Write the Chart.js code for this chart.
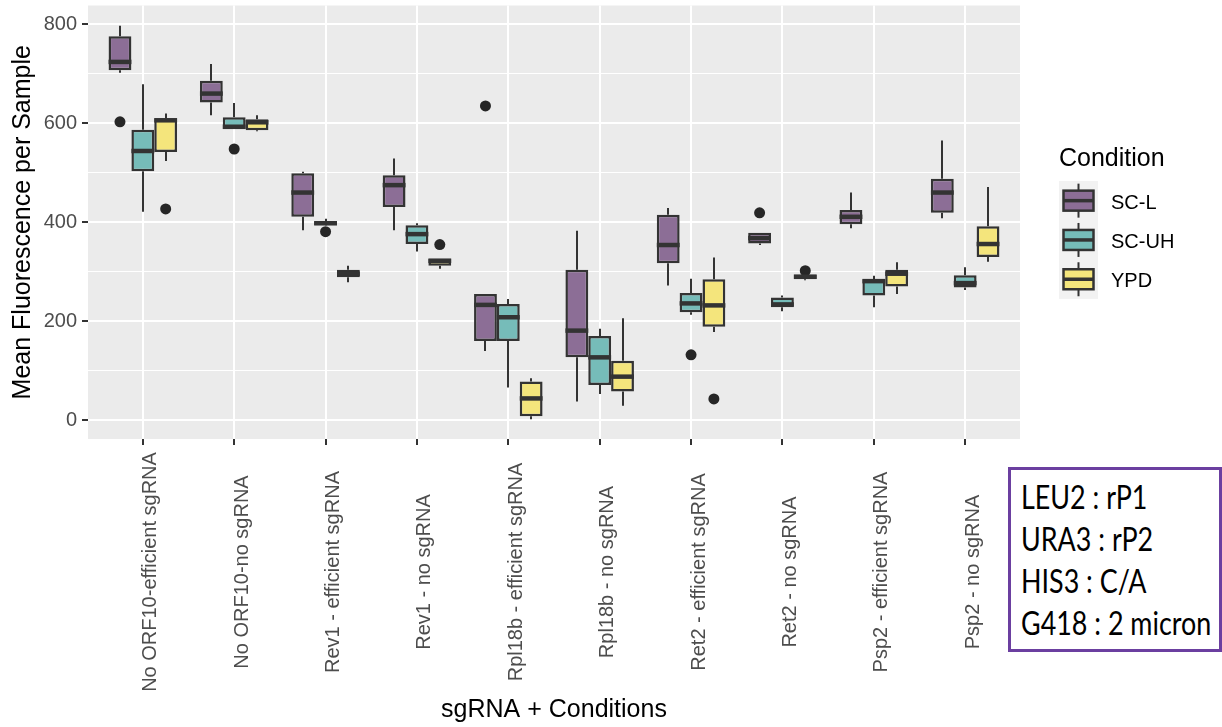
<!DOCTYPE html>
<html>
<head>
<meta charset="utf-8">
<script src="https://cdn.jsdelivr.net/npm/chart.js@4.4.1/dist/chart.umd.min.js"></script>
<style>
  html, body { margin: 0; padding: 0; background: #ffffff; }
  #wrap { position: relative; width: 1222px; height: 727px; overflow: hidden; }
  #chart { position: absolute; left: 0; top: 0; }
  #note {
    position: absolute; left: 1008px; top: 467px; width: 214px; height: 185px;
    box-sizing: border-box; border: 3px solid #6B3FA0; background: #fff;
    font-family: Lato, "Open Sans", sans-serif; color: #000;
    padding: 6px 0 0 10px;
  }
  #note div { font-size: 32px; line-height: 42px; height: 42px; white-space: nowrap;
    transform: scaleX(0.84); transform-origin: left center; }
</style>
</head>
<body>
<div id="wrap">
  <canvas id="chart" width="1222" height="727"></canvas>
  <div id="note">
    <div>LEU2 : rP1</div>
    <div>URA3 : rP2</div>
    <div>HIS3 : C/A</div>
    <div>G418 : 2 micron</div>
  </div>
</div>
<script>
// ---------------- data ----------------
const categories = [
  'No ORF10-efficient sgRNA', 'No ORF10-no sgRNA', 'Rev1 - efficient sgRNA', 'Rev1 - no sgRNA',
  'Rpl18b - efficient sgRNA', 'Rpl18b - no sgRNA', 'Ret2 - efficient sgRNA', 'Ret2 - no sgRNA',
  'Psp2 - efficient sgRNA', 'Psp2 - no sgRNA'
];
const conditions = ['SC-L', 'SC-UH', 'YPD'];

// SC-L
const sclMin = [702, 616, 384, 384, 140,  38, 272, 354, 388, 408];
const sclQ1  = [707, 642, 411, 431, 160, 127, 317, 357, 396, 419];
const sclMed = [724, 660, 460, 475, 233, 181, 354, 368, 411, 460];
const sclQ3  = [776, 686, 499, 495, 255, 304, 415, 379, 425, 488];
const sclMax = [797, 720, 502, 529, 255, 383, 429, 379, 460, 565];
const sclOut = [603, null, null, null, 635, null, null, 419, null, null];

// SC-UH
const scuhMin = [421, 588, 393, 341,  66,  53, 213, 220, 228, 263];
const scuhQ1  = [503, 588, 394, 356, 160,  71, 218, 228, 252, 268];
const scuhMed = [544, 593, 398, 376, 208, 127, 236, 234, 281, 277];
const scuhQ3  = [587, 612, 402, 394, 235, 170, 257, 248, 285, 293];
const scuhMax = [679, 641, 407, 398, 245, 185, 286, 252, 292, 309];
const scuhOut = [null, 548, 381, null, null, null, 132, null, null, null];

// YPD
const ypdMin = [524, 584, 279, 306,   2,  29, 178, 283, 255, 320];
const ypdQ1  = [542, 586, 289, 312,   8,  58, 189, 285, 270, 330];
const ypdMed = [606, 602, 296, 322,  44,  88, 232, 290, 296, 356];
const ypdQ3  = [610, 608, 304, 327,  78, 120, 285, 294, 304, 392];
const ypdMax = [620, 616, 312, 327,  85, 206, 329, 294, 319, 471];
const ypdOut = [427, null, null, 355, null, null, 43, 302, null, null];

const yGridValues = [0, 100, 200, 300, 400, 500, 600, 700, 800];
const yTickLabels = [0, 200, 400, 600, 800];

// ---------------- styling ----------------
const fillColors = ['#8C6E96', '#76BCB9', '#F4E57C'];
const lineColor = '#333333';
const FONT = '"Liberation Sans", Arial, Helvetica, sans-serif';

const series = [
  { min: sclMin,  q1: sclQ1,  med: sclMed,  q3: sclQ3,  max: sclMax,  out: sclOut },
  { min: scuhMin, q1: scuhQ1, med: scuhMed, q3: scuhQ3, max: scuhMax, out: scuhOut },
  { min: ypdMin,  q1: ypdQ1,  med: ypdMed,  q3: ypdQ3,  max: ypdMax,  out: ypdOut }
];
const dodge = 0.25;

const boxDatasets = series.map((s, k) => ({
  type: 'bar',
  label: conditions[k],
  data: categories.map((c, i) => ({ x: i + 1, y: [s.q1[i], s.q3[i]] })),
  backgroundColor: fillColors[k],
  borderColor: lineColor,
  borderWidth: 2.5,
  borderSkipped: false,
  categoryPercentage: 0.75,
  barPercentage: 1.0,
  order: 2
}));

const outlierDatasets = series.map((s, k) => ({
  type: 'scatter',
  label: conditions[k] + ' outliers',
  data: s.out.map((v, i) => v == null ? null : { x: i + 1 + (k - 1) * dodge, y: v }).filter(p => p),
  pointRadius: 5.5,
  pointHoverRadius: 5.5,
  pointBackgroundColor: '#262626',
  pointBorderColor: '#262626',
  pointBorderWidth: 0,
  order: 1
}));

const boxPlugin = {
  id: 'boxExtras',
  beforeDraw(chart) {
    const { ctx, chartArea: a } = chart;
    ctx.save();
    ctx.fillStyle = '#EBEBEB';
    ctx.fillRect(a.left, a.top, a.right - a.left, a.bottom - a.top);
    ctx.restore();
  },
  beforeDatasetsDraw(chart) {
    const { ctx } = chart;
    const y = chart.scales.y;
    ctx.save();
    ctx.strokeStyle = lineColor;
    ctx.lineWidth = 2;
    series.forEach((s, k) => {
      const meta = chart.getDatasetMeta(k);
      meta.data.forEach((bar, i) => {
        const px = Math.round(bar.x);
        ctx.beginPath();
        ctx.moveTo(px, y.getPixelForValue(s.min[i]));
        ctx.lineTo(px, y.getPixelForValue(s.q1[i]));
        ctx.moveTo(px, y.getPixelForValue(s.q3[i]));
        ctx.lineTo(px, y.getPixelForValue(s.max[i]));
        ctx.stroke();
      });
    });
    ctx.restore();
  },
  afterDatasetsDraw(chart) {
    const { ctx } = chart;
    const y = chart.scales.y;
    ctx.save();
    ctx.strokeStyle = lineColor;
    ctx.lineWidth = 4.5;
    series.forEach((s, k) => {
      const meta = chart.getDatasetMeta(k);
      meta.data.forEach((bar, i) => {
        const py = y.getPixelForValue(s.med[i]);
        ctx.beginPath();
        ctx.moveTo(bar.x - bar.width / 2, py);
        ctx.lineTo(bar.x + bar.width / 2, py);
        ctx.stroke();
      });
    });
    ctx.restore();
  },
  afterDraw(chart) {
    const { ctx } = chart;
    const x = chart.scales.x;
    ctx.save();
    // category labels (rotated, centred)
    ctx.fillStyle = '#4D4D4D';
    ctx.font = '20px ' + FONT;
    ctx.textAlign = 'center';
    ctx.textBaseline = 'middle';
    categories.forEach((c, i) => {
      const px = x.getPixelForValue(i + 1) + 8;
      ctx.save();
      ctx.translate(px, 572);
      ctx.rotate(-Math.PI / 2);
      ctx.fillText(c, 0, 0);
      ctx.restore();
    });
    // legend
    const lx = 1059, ly = 181, kh = 39.3, kw = 39;
    ctx.textAlign = 'left';
    ctx.textBaseline = 'alphabetic';
    ctx.fillStyle = '#000';
    ctx.font = '25px ' + FONT;
    ctx.fillText('Condition', 1059, 166);
    ctx.fillStyle = '#F2F2F2';
    ctx.fillRect(lx, ly, kw, kh * 3);
    conditions.forEach((name, k) => {
      const cy = ly + kh * (k + 0.5);
      const cx = lx + kw / 2;
      ctx.strokeStyle = lineColor;
      ctx.lineWidth = 2;
      ctx.beginPath();
      ctx.moveTo(cx, cy - 17); ctx.lineTo(cx, cy + 17);
      ctx.stroke();
      ctx.fillStyle = fillColors[k];
      ctx.lineWidth = 2.5;
      ctx.fillRect(lx + 4.5, cy - 10, 30, 20);
      ctx.strokeRect(lx + 4.5, cy - 10, 30, 20);
      ctx.lineWidth = 3.5;
      ctx.beginPath();
      ctx.moveTo(lx + 4.5, cy); ctx.lineTo(lx + 34.5, cy);
      ctx.stroke();
      ctx.fillStyle = '#000';
      ctx.font = '20px ' + FONT;
      ctx.fillText(name, 1111, cy + 8);
    });
    ctx.restore();
  }
};

new Chart(document.getElementById('chart'), {
  type: 'bar',
  data: { datasets: [...boxDatasets, ...outlierDatasets] },
  plugins: [boxPlugin],
  options: {
    responsive: false,
    animation: false,
    events: [],
    layout: { padding: { left: 0, right: 202, top: 5, bottom: 0 } },
    plugins: { legend: { display: false }, tooltip: { enabled: false } },
    scales: {
      x: {
        type: 'linear',
        min: 0.4, max: 10.6,
        offset: false,
        afterBuildTicks: s => { s.ticks = categories.map((c, i) => ({ value: i + 1 })); },
        afterFit: s => { s.height = 288; s.paddingLeft = 0; s.paddingRight = 0; },
        ticks: { display: false },
        grid: { offset: false, color: '#FFFFFF', lineWidth: 2, tickColor: '#333333', tickLength: 6, tickWidth: 2 },
        border: { display: false },
        title: { display: true, text: 'sgRNA + Conditions', color: '#000', font: { size: 25, family: FONT }, padding: { top: 0, bottom: 2 } }
      },
      y: {
        type: 'linear',
        min: -38, max: 838,
        afterBuildTicks: s => { s.ticks = yGridValues.map(v => ({ value: v })); },
        afterFit: s => { s.width = 88; s.paddingTop = 0; s.paddingBottom = 0; },
        ticks: {
          callback: v => yTickLabels.includes(v) ? String(v) : '',
          color: '#4D4D4D', font: { size: 20, family: FONT }, padding: 5
        },
        grid: {
          color: '#FFFFFF',
          lineWidth: c => (c.tick && yTickLabels.includes(c.tick.value)) ? 2 : 1,
          tickColor: c => (c.tick && yTickLabels.includes(c.tick.value)) ? '#333333' : 'rgba(0,0,0,0)',
          tickLength: 6, tickWidth: 2
        },
        border: { display: false },
        title: { display: true, text: 'Mean Fluorescence per Sample', color: '#000', font: { size: 25, family: FONT }, padding: { top: 8, bottom: 0 } }
      }
    }
  }
});
</script>
</body>
</html>
